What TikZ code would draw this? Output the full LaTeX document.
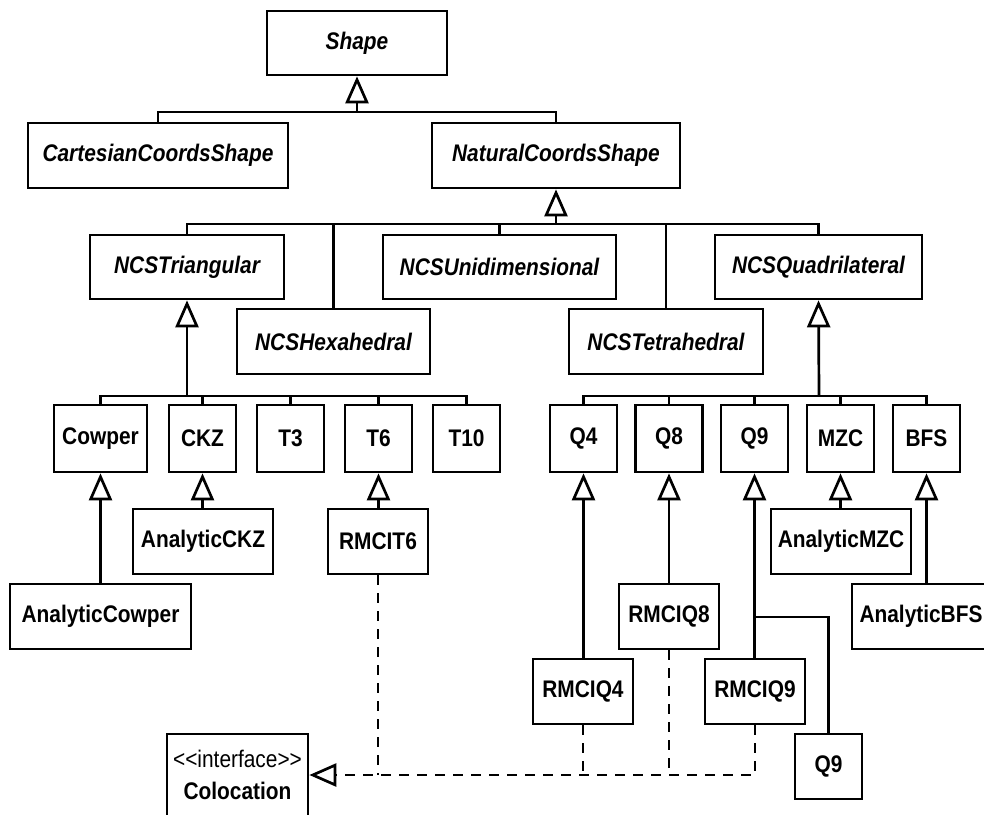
\documentclass[tikz,border=0pt]{standalone}
\usepackage{fontspec}
\setmainfont[FakeStretch=0.87]{Liberation Sans}
\usetikzlibrary{arrows.meta}
\begin{document}
\begin{tikzpicture}[x=1pt,y=-1pt,
  box/.style={draw, line width=2.7pt, rectangle, inner sep=0pt,
    font=\fontsize{24}{32}\selectfont\bfseries},
  abs/.style={box, font=\fontsize{24}{32}\selectfont\bfseries\itshape},
  link/.style={line width=2.7pt},
  gen/.style={line width=2.7pt, -{Triangle[fill=white, length=27pt, width=23pt]}},
  real/.style={line width=2.7pt, dash pattern=on 10pt off 8pt,
    -{Triangle[fill=white, length=27pt, width=23pt]}},
  realline/.style={line width=2.7pt, dash pattern=on 10pt off 8pt}]
\useasboundingbox (0,0) rectangle (984,814);

% abstract hierarchy
\node[abs, minimum width=180pt, minimum height=64pt] (shape) at (357,43) {Shape};
\node[abs, minimum width=260pt, minimum height=65pt] (cart) at (158,155.5) {CartesianCoordsShape};
\node[abs, minimum width=248pt, minimum height=65pt] (nat) at (556,155.5) {NaturalCoordsShape};
\node[abs, minimum width=194pt, minimum height=64pt] (tri) at (187,267) {NCSTriangular};
\node[abs, minimum width=233pt, minimum height=64pt] (uni) at (499.5,267) {NCSUnidimensional};
\node[abs, minimum width=207pt, minimum height=64pt] (quad) at (818.5,267) {NCSQuadrilateral};
\node[abs, minimum width=193pt, minimum height=65pt] (hex) at (333.5,341.5) {NCSHexahedral};
\node[abs, minimum width=194pt, minimum height=65pt] (tet) at (666,341.5) {NCSTetrahedral};

% concrete elements
\node[box, minimum width=93pt, minimum height=67pt] (cowper) at (100.5,438.5) {Cowper};
\node[box, minimum width=67pt, minimum height=67pt] (ckz) at (202.5,438.5) {CKZ};
\node[box, minimum width=67pt, minimum height=67pt] (t3) at (290.5,438.5) {T3};
\node[box, minimum width=67pt, minimum height=67pt] (t6) at (378.5,438.5) {T6};
\node[box, minimum width=67pt, minimum height=67pt] (t10) at (466.5,438.5) {T10};
\node[box, minimum width=67pt, minimum height=67pt] (q4) at (583.5,438.5) {Q4};
\node[box, minimum width=67pt, minimum height=67pt] (q8) at (669,438.5) {Q8};
\node[box, minimum width=67pt, minimum height=67pt] (q9) at (754.5,438.5) {Q9};
\node[box, minimum width=67pt, minimum height=67pt] (mzc) at (840.5,438.5) {MZC};
\node[box, minimum width=67pt, minimum height=67pt] (bfs) at (926.5,438.5) {BFS};

\node[box, minimum width=140pt, minimum height=65pt] (ackz) at (203,541.5) {AnalyticCKZ};
\node[box, minimum width=100pt, minimum height=65pt] (rt6) at (378,541.5) {RMCIT6};
\node[box, minimum width=140pt, minimum height=65pt] (amzc) at (841,541.5) {AnalyticMZC};
\node[box, minimum width=181pt, minimum height=65pt] (acow) at (100.5,616.5) {AnalyticCowper};
\node[box, minimum width=100pt, minimum height=65pt] (rq8) at (669,616.5) {RMCIQ8};
\node[box, minimum width=138pt, minimum height=65pt] (abfs) at (921,616.5) {AnalyticBFS};
\node[box, minimum width=100pt, minimum height=65pt] (rq4) at (583,691.5) {RMCIQ4};
\node[box, minimum width=100pt, minimum height=65pt] (rq9) at (755,691.5) {RMCIQ9};
\node[box, minimum width=67pt, minimum height=65pt] (q9b) at (828.5,766.5) {Q9};
\node[box, minimum width=141pt, minimum height=82pt, align=center] (coloc) at (237.5,775)
  {{\mdseries {<}{<}interface{>}{>}}\\Colocation};

% generalisation trees
\coordinate (j1) at (357,112);
\draw[link] (cart.north) |- (nat.north |- j1) -- (nat.north);
\draw[gen] (j1) -- (shape.south);

\coordinate (j2) at (556,224);
\draw[link] (tri.north) |- (quad.north |- j2) -- (quad.north);
\draw[link] (hex.north) -- (hex.north |- j2);
\draw[link] (uni.north) -- (uni.north |- j2);
\draw[link] (tet.north) -- (tet.north |- j2);
\draw[gen] (j2) -- (nat.south);

\coordinate (j3) at (187,396);
\draw[link] (cowper.north) |- (t10.north |- j3) -- (t10.north);
\draw[link] (ckz.north) -- (ckz.north |- j3);
\draw[link] (t3.north) -- (t3.north |- j3);
\draw[link] (t6.north) -- (t6.north |- j3);
\draw[gen] (j3) -- (tri.south);

\coordinate (j4) at (819,396);
\draw[link] (q4.north) |- (bfs.north |- j4) -- (bfs.north);
\draw[link] (q8.north) -- (q8.north |- j4);
\draw[link] (q9.north) -- (q9.north |- j4);
\draw[link] (mzc.north) -- (mzc.north |- j4);
\draw[gen] (j4) -- (quad.south);

% specialisations
\draw[gen] (acow.north -| cowper.south) -- (cowper.south);
\draw[gen] (ackz.north -| ckz.south) -- (ckz.south);
\draw[gen] (rt6.north -| t6.south) -- (t6.south);
\draw[gen] (rq4.north -| q4.south) -- (q4.south);
\draw[gen] (rq8.north -| q8.south) -- (q8.south);
\draw[gen] (rq9.north -| q9.south) -- (q9.south);
\draw[gen] (amzc.north -| mzc.south) -- (mzc.south);
\draw[gen] (abfs.north -| bfs.south) -- (bfs.south);
\coordinate (jq) at (755,617);
\draw[link] (jq) -| (q9b.north);

% realisations of the interface
\draw[real] (rq9.south) |- (coloc.east);
\draw[realline] (rq4.south) -- (rq4.south |- coloc.east);
\draw[realline] (rq8.south) -- (rq8.south |- coloc.east);
\draw[realline] (rt6.south) -- (rt6.south |- coloc.east);
\end{tikzpicture}
\end{document}
